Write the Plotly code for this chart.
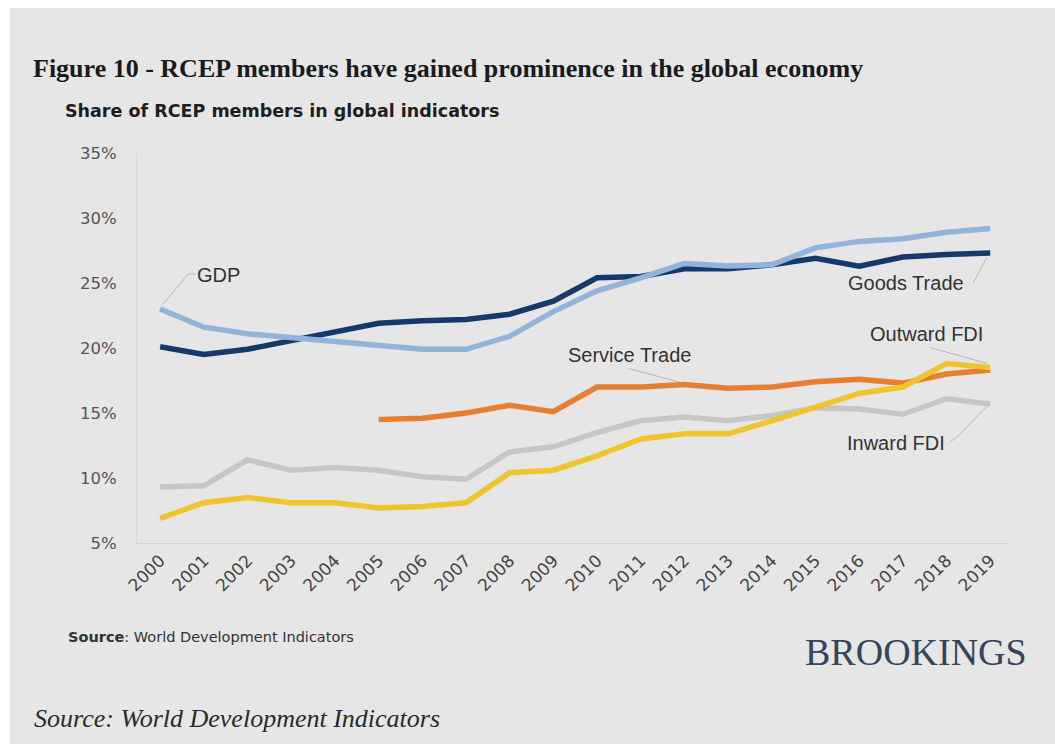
import plotly.graph_objects as go

# Share of RCEP members in global indicators (%)
years = list(range(2000, 2020))
year_labels = [str(y) for y in years]

gdp = [23.0, 21.6, 21.1, 20.8, 20.6, 20.2, 19.9, 19.9, 20.9, 22.8,
       24.4, 25.4, 26.5, 26.3, 26.4, 27.7, 28.2, 28.4, 28.9, 29.2]
goods_trade = [20.1, 19.5, 19.9, 20.6, 21.3, 21.9, 22.1, 22.2, 22.6, 23.6,
               25.4, 25.5, 26.1, 26.1, 26.4, 26.9, 26.3, 27.0, 27.2, 27.3]
service_trade = [None, None, None, None, None, 14.5, 14.6, 15.0, 15.6, 15.1,
                 17.0, 17.0, 17.2, 16.9, 17.0, 17.4, 17.6, 17.3, 18.0, 18.3]
inward_fdi = [9.3, 9.4, 11.4, 10.6, 10.8, 10.6, 10.1, 9.9, 12.0, 12.4,
              13.5, 14.4, 14.7, 14.4, 14.8, 15.4, 15.3, 14.9, 16.1, 15.7]
outward_fdi = [6.9, 8.1, 8.5, 8.1, 8.1, 7.7, 7.8, 8.1, 10.4, 10.6,
               11.7, 13.0, 13.4, 13.4, 14.4, 15.4, 16.5, 17.0, 18.8, 18.5]

y_ticks = [5, 10, 15, 20, 25, 30, 35]
y_tick_labels = [f"{v}%" for v in y_ticks]

W, H = 1055, 744
L, R, T, B = 137, 46, 153, 201
PW, PH = W - L - R, H - T - B


def px(x):
    return (x - L) / PW


def py(y):
    return (H - B - y) / PH


BG = "#e6e6e6"
SANS = "Liberation Sans, Arial, sans-serif"
WIDE = "DejaVu Sans, sans-serif"
SERIF = "Liberation Serif, Times New Roman, serif"

series = [
    ("Inward FDI", inward_fdi, "#c6c6c6"),
    ("Service Trade", service_trade, "#e67f2f"),
    ("Outward FDI", outward_fdi, "#efc52e"),
    ("Goods Trade", goods_trade, "#143a6a"),
    ("GDP", gdp, "#92b4d9"),
]

fig = go.Figure()
for name, vals, color in series:
    fig.add_trace(go.Scatter(
        x=years, y=vals, name=name, mode="lines",
        line=dict(color=color, width=5.5),
        connectgaps=False, hoverinfo="x+y+name",
    ))

# direct labels: (text, anchor year, anchor value, text shift, leader path in pixels)
labels = [
    ("GDP", years[0], gdp[0], (58, 34), "M 3,5 L 28,35 L 35,35"),
    ("Goods Trade", years[-1], goods_trade[-1], (-84, -30), "M -3,-4 L -17,-30"),
    ("Outward FDI", years[-1], outward_fdi[-1], (-64, 34), "M -3,4 L -60,20"),
    ("Service Trade", years[12], service_trade[12], (-55, 29), "M -4,2 L -56,16"),
    ("Inward FDI", years[-1], inward_fdi[-1], (-94, -39), "M -2,-1 L -32,-32 L -40,-38"),
]

shapes = [
    # white outer edge and grey card
    dict(type="rect", xref="paper", yref="paper", x0=px(0), x1=px(W), y0=py(H), y1=py(0),
         fillcolor="white", line=dict(width=0), layer="below"),
    dict(type="rect", xref="paper", yref="paper", x0=px(10), x1=px(W), y0=py(H), y1=py(8),
         fillcolor=BG, line=dict(width=0), layer="below"),
]
annotations = []
for text, ax_year, ax_val, (sx, sy), path in labels:
    shapes.append(dict(
        type="path", xref="x", yref="y", xsizemode="pixel", ysizemode="pixel",
        xanchor=ax_year, yanchor=ax_val, path=path,
        line=dict(color="#b5b5b5", width=1), layer="below",
    ))
    annotations.append(dict(
        text=text, x=ax_year, y=ax_val, xref="x", yref="y",
        xshift=sx, yshift=sy, showarrow=False,
        font=dict(family=SANS, size=20, color="#333333"),
        xanchor="center", yanchor="middle",
    ))

annotations += [
    dict(text="Share of RCEP members in global indicators", xref="paper", yref="paper",
         x=px(63), y=py(111), xanchor="left", yanchor="middle", showarrow=False,
         font=dict(family=WIDE, size=17.5, color="#1e1e1e", weight="bold")),
    dict(text="<b>Source</b>: World Development Indicators", xref="paper", yref="paper",
         x=px(66), y=py(637), xanchor="left", yanchor="middle", showarrow=False,
         font=dict(family=WIDE, size=14.5, color="#333333")),
    dict(text="BROOKINGS", xref="paper", yref="paper",
         x=px(1029), y=py(652), xanchor="right", yanchor="middle", showarrow=False,
         font=dict(family=SERIF, size=38, color="#34445a")),
    dict(text="<i>Source: World Development Indicators</i>", xref="paper", yref="paper",
         x=px(32), y=py(718), xanchor="left", yanchor="middle", showarrow=False,
         font=dict(family=SERIF, size=26, color="#2a2a2a")),
]

fig.update_layout(
    width=W, height=H,
    margin=dict(l=L, r=R, t=T, b=B, pad=0),
    paper_bgcolor=BG, plot_bgcolor=BG,
    showlegend=False,
    title=dict(
        text="<b>Figure 10 - RCEP members have gained prominence in the global economy</b>",
        x=33 / W, xref="container", xanchor="left",
        y=1 - 68 / H, yref="container", yanchor="middle",
        font=dict(family=SERIF, size=26, color="#1a1a1a"),
    ),
    xaxis=dict(
        range=[years[0] - 0.53, years[-1] + 0.43],
        tickmode="array", tickvals=years, ticktext=year_labels,
        tickangle=-45, tickfont=dict(family=WIDE, size=17, color="#444444"),
        showgrid=False, zeroline=False,
        showline=True, linecolor="#d2d2d2", linewidth=1,
        ticks="", fixedrange=True,
    ),
    yaxis=dict(
        range=[5, 35],
        tickmode="array", tickvals=y_ticks, ticktext=y_tick_labels,
        tickfont=dict(family=WIDE, size=16.5, color="#555555"),
        ticklabelstandoff=16,
        showgrid=False, zeroline=False,
        showline=True, linecolor="#d8d8d8", linewidth=1,
        ticks="", fixedrange=True,
    ),
    shapes=shapes,
    annotations=annotations,
)

fig.write_html("out.html")
